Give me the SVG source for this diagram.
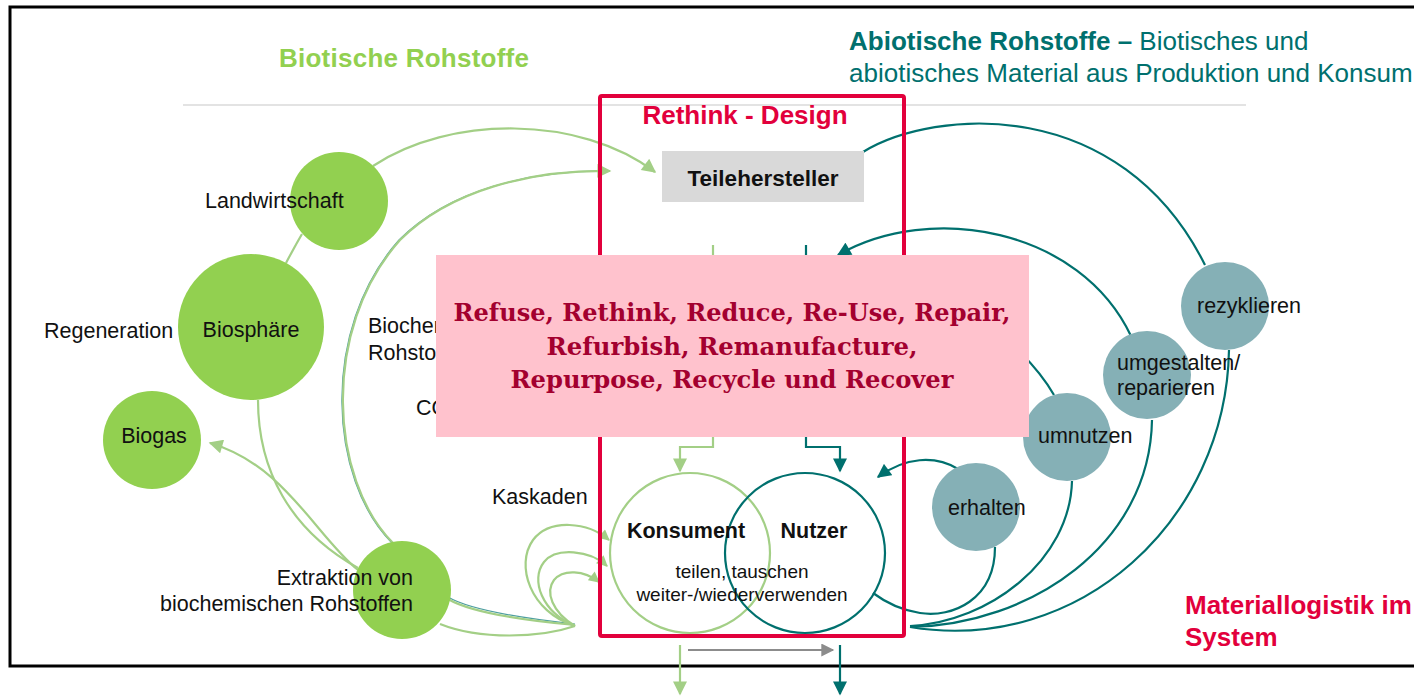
<svg xmlns="http://www.w3.org/2000/svg" width="1414" height="696" viewBox="0 0 1414 696">
<style>
.lbl{font-family:"Liberation Sans",Arial,sans-serif;font-size:21.5px;fill:#111}
.sm{font-family:"Liberation Sans",Arial,sans-serif;font-size:19px;fill:#111}
.bold{font-family:"Liberation Sans",Arial,sans-serif;font-weight:bold}
.gl{fill:none;stroke:#a3cf86;stroke-width:2.2}
.tl{fill:none;stroke:#00706e;stroke-width:2.2}
.gc{fill:#92d050}
.tc{fill:#85b0b6}
</style>
<defs>
<marker id="ag" viewBox="0 0 10 10" markerWidth="15" markerHeight="14" refX="9" refY="5" orient="auto" markerUnits="userSpaceOnUse"><path d="M0,0 L10,5 L0,10 z" fill="#a3cf86"/></marker>
<marker id="ags" viewBox="0 0 10 10" markerWidth="12" markerHeight="11" refX="9" refY="5" orient="auto" markerUnits="userSpaceOnUse"><path d="M0,0 L10,5 L0,10 z" fill="#a3cf86"/></marker>
<marker id="at" viewBox="0 0 10 10" markerWidth="15" markerHeight="14" refX="9" refY="5" orient="auto" markerUnits="userSpaceOnUse"><path d="M0,0 L10,5 L0,10 z" fill="#00706e"/></marker>
<marker id="agr" viewBox="0 0 10 10" markerWidth="15" markerHeight="13" refX="9" refY="5" orient="auto" markerUnits="userSpaceOnUse"><path d="M0,0 L10,5 L0,10 z" fill="#8c8c8c"/></marker>
</defs>
<rect width="1414" height="696" fill="#fff"/>
<rect x="10" y="7" width="1420" height="659" fill="none" stroke="#000" stroke-width="3"/>
<line x1="183" y1="105" x2="1246" y2="105" stroke="#c8c8c8" stroke-width="1.2"/>

<text class="bold" x="404" y="67" font-size="26" fill="#92d050" text-anchor="middle" textLength="250">Biotische Rohstoffe</text>
<text class="bold" x="849" y="50" font-size="26" fill="#00706e">Abiotische Rohstoffe –<tspan font-weight="normal"> Biotisches und</tspan></text>
<text x="849" y="82" font-family="Liberation Sans,Arial,sans-serif" font-size="26" fill="#00706e">abiotisches Material aus Produktion und Konsum</text>

<g id="connectors">
<path class="gl" d="M373,166 C450,115 580,115 655,172" marker-end="url(#ag)"/>
<path d="M392,543 C329,480 319,330 399,240 C449,190 530,170 610,171" fill="none" stroke="#4f9fa0" stroke-width="1.2"/>
<path class="gl" d="M393,543 C330,480 320,330 400,240 C450,190 530,170 610,171" marker-end="url(#ag)"/>
<path class="gl" d="M302,234 Q295,246 286,263"/>
<path class="gl" d="M258,400 C258,470 290,530 358,568"/>
<path class="gl" d="M358,570 C315,535 285,465 210,443" marker-end="url(#ag)"/>
<path d="M575,624 C520,618 470,610 448,597" fill="none" stroke="#4f9fa0" stroke-width="1.2"/>
<path class="gl" d="M575,625 C520,620 470,612 448,599"/>
<path class="gl" d="M575,626 C540,638 480,640 440,624"/>
<path class="gl" d="M575,626 C530,612 515,565 533,540 C550,518 588,522 609,540" marker-end="url(#ags)"/>
<path class="gl" d="M575,626 C542,612 530,580 544,562 C556,547 590,550 607,566" marker-end="url(#ags)"/>
<path class="gl" d="M575,626 C552,612 545,592 554,580 C563,569 584,570 599,582" marker-end="url(#ags)"/>
<path class="gl" d="M713,245 V447 H680 V471" marker-end="url(#ag)"/>
<path class="tl" d="M806,245 V447 H840 V471" marker-end="url(#at)"/>
<path class="gl" d="M680,645 V694" marker-end="url(#ag)"/>
<path class="tl" d="M840,645 V694" marker-end="url(#at)"/>
<path d="M688,650 H833" stroke="#8c8c8c" stroke-width="2.2" fill="none" marker-end="url(#agr)"/>
<path class="tl" d="M863,152 C935,108 1120,95 1205,265"/>
<path class="tl" d="M1131,336 C1080,228 930,202 838,255" marker-end="url(#at)"/>
<path class="tl" d="M1054,395 Q1042,374 1020,352"/>
<path class="tl" d="M958,469 C935,455 905,457 878,477" marker-end="url(#at)"/>
<path class="tl" d="M995,547 C995,600 952,618 920,613 C900,610 885,602 873,593"/>
<path class="tl" d="M1072,481 C1070,560 990,622 910,626"/>
<path class="tl" d="M1152,420 C1150,545 1030,625 910,627"/>
<path class="tl" d="M1229,350 C1226,520 1080,655 910,627"/>
</g>

<g id="landwirtschaft"><circle class="gc" cx="339" cy="201" r="49"/><text class="lbl" x="205" y="208">Landwirtschaft</text></g>
<g id="biosphaere"><circle class="gc" cx="251" cy="327" r="73"/><text class="lbl" x="251" y="337" text-anchor="middle">Biosphäre</text></g>
<text id="regeneration" class="lbl" x="44" y="338">Regeneration</text>
<g id="biogas"><circle class="gc" cx="152" cy="440" r="49"/><text class="lbl" x="154" y="443" text-anchor="middle">Biogas</text></g>
<g id="extraktion"><circle class="gc" cx="402" cy="590" r="49"/><text class="lbl" x="413" y="585" text-anchor="end">Extraktion von</text><text class="lbl" x="413" y="611" text-anchor="end">biochemischen Rohstoffen</text></g>
<text id="kaskaden" class="lbl" x="492" y="504">Kaskaden</text>
<text class="lbl" x="368" y="333">Biochem</text>
<text class="lbl" x="368" y="360">Rohstof</text>
<text class="lbl" x="416" y="415">CO2</text>

<g id="rezyklieren"><circle class="tc" cx="1225" cy="306" r="44"/><text class="lbl" x="1197" y="313">rezyklieren</text></g>
<g id="umgestalten"><circle class="tc" cx="1147" cy="375" r="44"/><text class="lbl" x="1117" y="370">umgestalten/</text><text class="lbl" x="1117" y="395">reparieren</text></g>
<g id="umnutzen"><circle class="tc" cx="1067" cy="437" r="44"/><text class="lbl" x="1038" y="443">umnutzen</text></g>
<g id="erhalten"><circle class="tc" cx="976" cy="507" r="44"/><text class="lbl" x="948" y="515">erhalten</text></g>

<g id="konsument-nutzer">
<circle cx="690" cy="553" r="80" fill="none" stroke="#a3cf86" stroke-width="2.2"/>
<circle cx="805" cy="553" r="80" fill="none" stroke="#00706e" stroke-width="2.2"/>
<text class="bold" x="686" y="538" font-size="21.5" fill="#111" text-anchor="middle">Konsument</text>
<text class="bold" x="814" y="538" font-size="21.5" fill="#111" text-anchor="middle">Nutzer</text>
<text class="sm" x="742" y="578" text-anchor="middle">teilen, tauschen</text>
<text class="sm" x="742" y="601" text-anchor="middle">weiter-/wiederverwenden</text>
</g>

<g id="rethink">
<rect x="600" y="96" width="304" height="540" rx="2" fill="none" stroke="#e2003c" stroke-width="4"/>
<text class="bold" x="745" y="124" font-size="26" fill="#e2003c" text-anchor="middle">Rethink - Design</text>
</g>
<g id="teilehersteller"><rect x="662" y="151" width="202" height="51" fill="#d9d9d9"/><text class="bold" x="763" y="186" font-size="22.5" fill="#111" text-anchor="middle">Teilehersteller</text></g>

<g id="materiallogistik"><text class="bold" x="1185" y="614" font-size="26" fill="#e2003c">Materiallogistik im</text><text class="bold" x="1185" y="646" font-size="26" fill="#e2003c">System</text></g>

<g id="r-strategien">
<rect x="436" y="255" width="593" height="182" fill="#ffc2cd"/>
<g font-family="DejaVu Serif,serif" font-weight="bold" font-size="24" fill="#a3002f" text-anchor="middle">
<text x="732" y="321" textLength="557" lengthAdjust="spacingAndGlyphs">Refuse, Rethink, Reduce, Re-Use, Repair,</text>
<text x="732" y="355" textLength="371" lengthAdjust="spacingAndGlyphs">Refurbish, Remanufacture,</text>
<text x="732" y="388" textLength="443" lengthAdjust="spacingAndGlyphs">Repurpose, Recycle und Recover</text>
</g>
</g>
</svg>
